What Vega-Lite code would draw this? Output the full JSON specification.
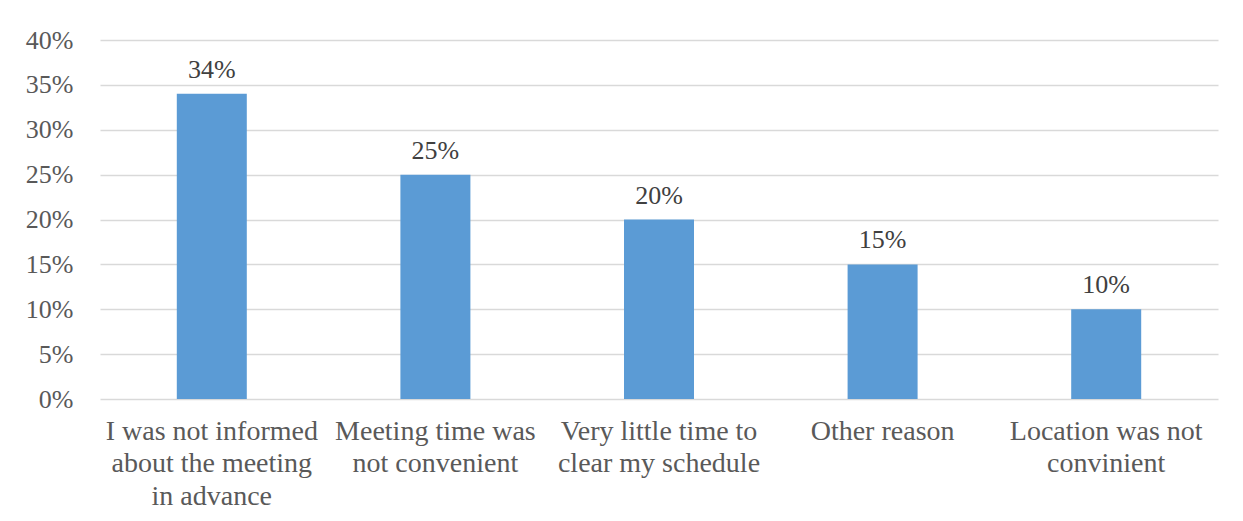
{
  "$schema": "https://vega.github.io/schema/vega-lite/v6.json",
  "width": 1118,
  "height": 359,
  "autosize": {"type": "none"},
  "padding": {"left": 100, "top": 40, "right": 25, "bottom": 122},
  "background": "white",
  "config": {
    "view": {"stroke": null},
    "font": "Liberation Serif"
  },
  "data": {
    "values": [
      {"reason": "I was not informed|about the meeting|in advance", "pct": 0.34, "lbl": "34%"},
      {"reason": "Meeting time was|not convenient", "pct": 0.25, "lbl": "25%"},
      {"reason": "Very little time to|clear my schedule", "pct": 0.20, "lbl": "20%"},
      {"reason": "Other reason", "pct": 0.15, "lbl": "15%"},
      {"reason": "Location was not|convinient", "pct": 0.10, "lbl": "10%"}
    ]
  },
  "encoding": {
    "x": {
      "field": "reason",
      "type": "nominal",
      "sort": null,
      "scale": {"paddingInner": 0, "paddingOuter": 0},
      "axis": {
        "title": null,
        "labelAngle": 0,
        "labelExpr": "split(datum.label, '|')",
        "labelFont": "Liberation Serif",
        "labelFontSize": 28,
        "labelLineHeight": 32.5,
        "labelColor": "#595959",
        "labelPadding": 18,
        "labelBaseline": "top",
        "ticks": false,
        "domain": false,
        "labelLimit": 300
      }
    },
    "y": {
      "field": "pct",
      "type": "quantitative",
      "scale": {"domain": [0, 0.4]},
      "axis": {
        "title": null,
        "format": ".0%",
        "values": [0, 0.05, 0.1, 0.15, 0.2, 0.25, 0.3, 0.35, 0.4],
        "labelOverlap": false,
        "labelFont": "Liberation Serif",
        "labelFontSize": 26,
        "labelColor": "#595959",
        "labelPadding": 27,
        "ticks": false,
        "domain": false,
        "gridColor": "#d9d9d9",
        "gridWidth": 1.5
      }
    }
  },
  "layer": [
    {"mark": {"type": "bar", "color": "#5b9bd5", "size": 70}},
    {
      "mark": {"type": "text", "baseline": "alphabetic", "dy": -16, "font": "Liberation Serif", "fontSize": 26, "color": "#404040"},
      "encoding": {"text": {"field": "lbl"}}
    }
  ]
}
